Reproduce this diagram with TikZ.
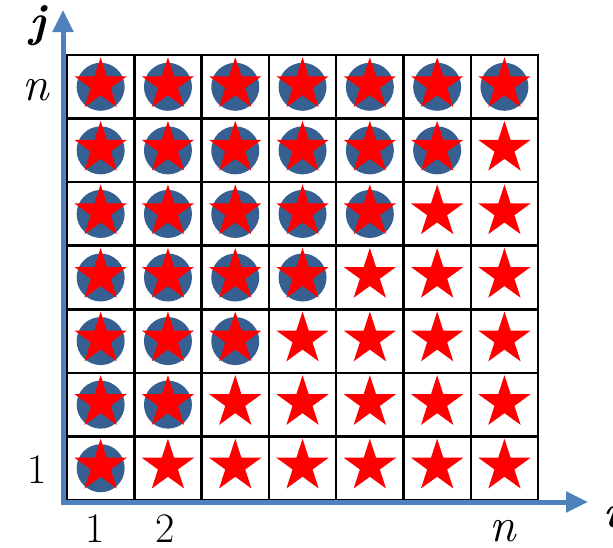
\documentclass[tikz,border=0pt]{standalone}
\usepackage{fontspec}
\usetikzlibrary{shapes.geometric,arrows.meta}
\definecolor{axisblue}{HTML}{4F81BD}
\definecolor{dotblue}{HTML}{376092}
\definecolor{starred}{HTML}{FF0000}
\begin{document}
\begin{tikzpicture}[x=1pt,y=-1pt,
  cell/.style={draw=black,line width=2.5pt,minimum width=67.3pt,minimum height=63.57pt,inner sep=0pt,anchor=center},
  dot/.style={circle,fill=dotblue,minimum size=48pt,inner sep=0pt},
  redstar/.style={star,star points=5,star point ratio=2.618,fill=starred,minimum size=55pt,inner sep=0pt},
  axis/.style={draw=axisblue,line width=5pt,-{Triangle[length=22pt,width=20pt]}},
  lbl/.style={font=\fontsize{42}{50}\selectfont,anchor=base,inner sep=0pt},
  nlbl/.style={lbl,font=\fontsize{48}{54}\selectfont\itshape}]
\useasboundingbox (0,0) rectangle (613,547);
% cells
\foreach \i in {1,...,7}{
  \foreach \j in {1,...,7}{
    \pgfmathsetmacro{\cx}{67+(\i-0.5)*67.3}
    \pgfmathsetmacro{\cy}{500-(\j-0.5)*63.57}
    \node[cell] (c-\i-\j) at (\cx,\cy) {};
  }
}
\foreach \i in {1,...,7}{
  \foreach \j in {1,...,7}{
    \ifnum\i>\j\else
      \node[dot] (d-\i-\j) at (c-\i-\j.center) {};
    \fi
    \node[redstar] (s-\i-\j) at ([yshift=2pt]c-\i-\j.center) {};
  }
}
% axes
\coordinate (jtip) at (63,10);
\coordinate (itip) at (588,502);
\coordinate (jstart) at (63,504.5);
\coordinate (istart) at (60.5,502);
\draw[axis] (jstart) -- (jtip);
\draw[axis] (istart) -- (itip);
% labels
\node[lbl,font=\fontsize{46}{52}\selectfont] (lj) at (38,36) {\bfseries\itshape j};
\node[nlbl] (ln) at (36,100) {n};
\node[lbl] (l1y) at (37,483) {1};
\node[lbl] (l1x) at (95,542) {1};
\node[lbl] (l2x) at (165,542) {2};
\node[nlbl] (lnx) at (503,541) {n};
\node[lbl,font=\fontsize{46}{52}\selectfont,anchor=base west] (li) at (603,527) {\bfseries\itshape i};
\end{tikzpicture}
\end{document}
